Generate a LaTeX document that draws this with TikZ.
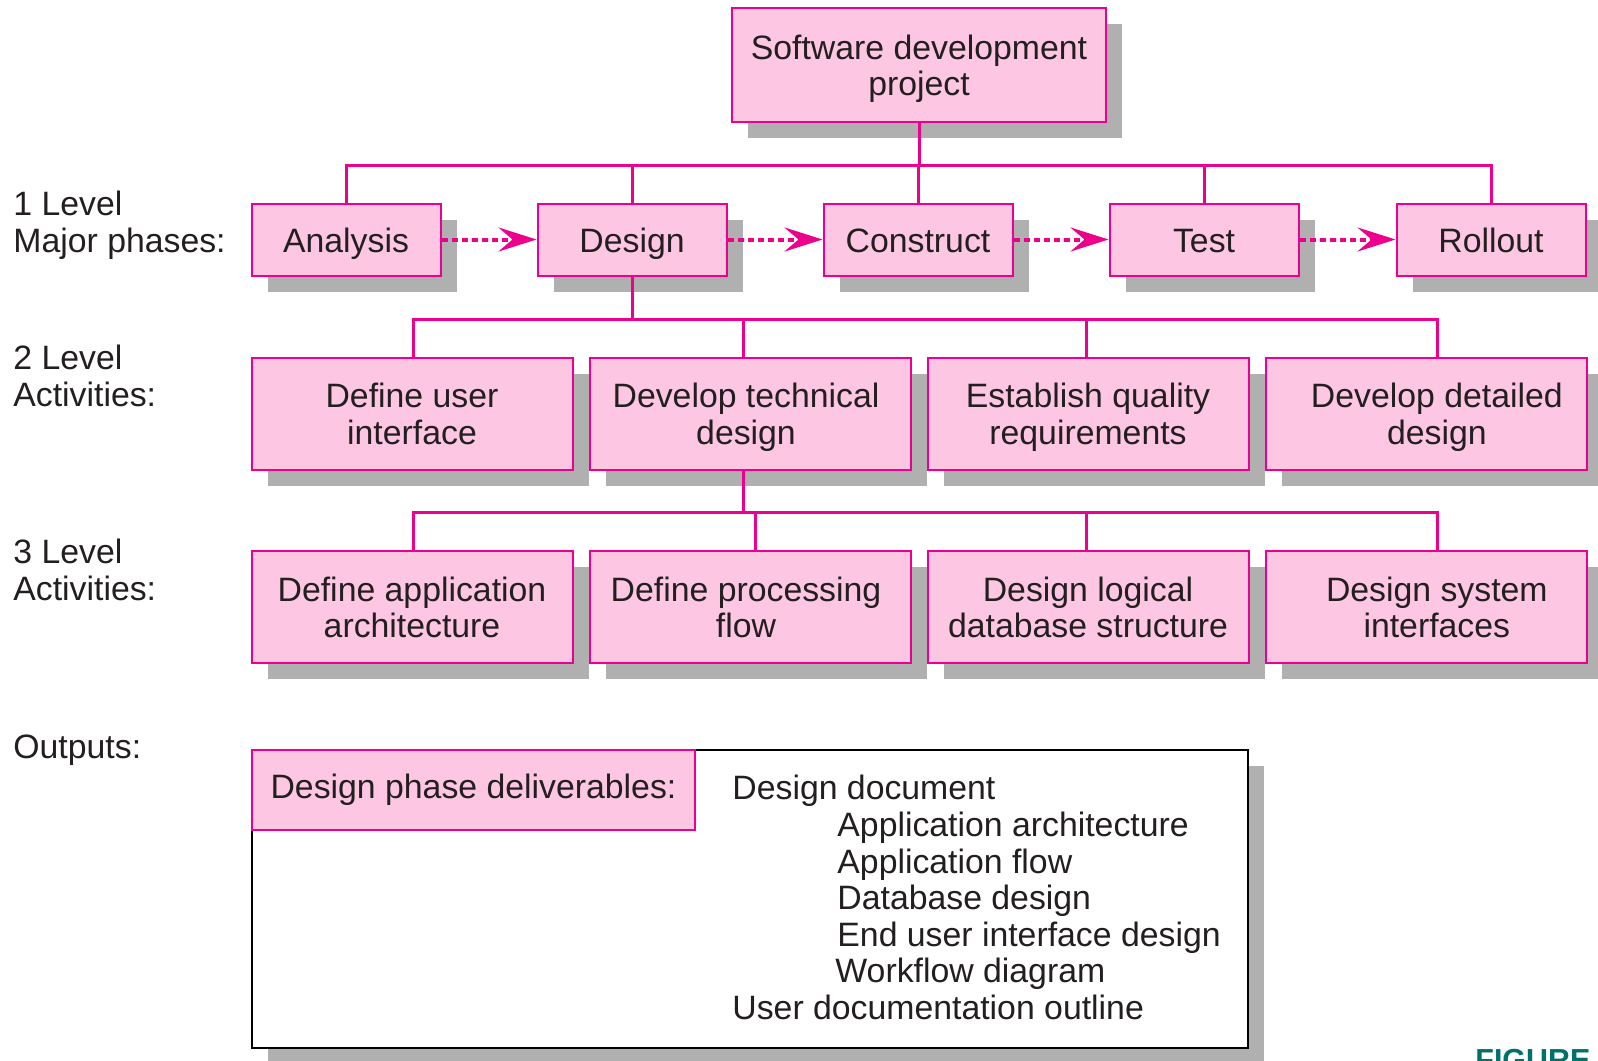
\documentclass[tikz,border=0pt]{standalone}
\usepackage{fontspec}
\setmainfont{Liberation Sans}
\usepackage{tikz,xcolor}
\usetikzlibrary{calc,positioning,shadows,arrows.meta}

\definecolor{wbsline}{HTML}{EC008C}
\definecolor{wbsfill}{HTML}{FDC6E2}
\definecolor{wbsshade}{HTML}{B0B0B0}
\definecolor{wbstext}{HTML}{231F20}
\definecolor{figteal}{HTML}{00706B}

\begin{document}
\begin{tikzpicture}[x=0.5pt, y=-0.5pt,
    every node/.style={font=\fontsize{16.9}{18.3}\selectfont, text=wbstext},
    wbsplain/.style={draw=wbsline, line width=1pt, fill=wbsfill, align=center, inner sep=0pt},
    wbsbox/.style={wbsplain, drop shadow={shadow xshift=8pt, shadow yshift=-8pt, fill=wbsshade, opacity=1}},
    phasebox/.style={wbsbox, minimum width=94.5pt, minimum height=36pt, text height=16pt, text depth=3pt},
    taskbox/.style={wbsbox, minimum width=160.5pt, minimum height=56pt, text height=30.6pt, text depth=0pt},
    wbslink/.style={draw=wbsline, line width=1.5pt},
    follows/.style={draw=wbsline, line width=2pt, dash pattern=on 3pt off 2pt, -{Stealth[length=19pt, width=12pt, inset=7pt]}},
    lvl/.style={anchor=north west, inner sep=0pt, align=left}]

    \useasboundingbox (0,0) rectangle (1598,1060);
    \clip (0,0) rectangle (1598,1060);

    \node[lvl] (lvlone) at (13,191) {1 Level\\Major phases:};
    \node[lvl] (lvltwo) at (13,345) {2 Level\\Activities:};
    \node[lvl] (lvlthree) at (13,539) {3 Level\\Activities:};
    \node[lvl] (outlbl) at (13,734) {Outputs:};

    \node[taskbox, minimum width=187pt, minimum height=57pt] (project) at (919,65) {Software development\\project};

    \node[phasebox] (analysis) at (346,239.5) {Analysis};
    \node[phasebox] (design) at (632,239.5) {Design};
    \node[phasebox] (construct) at (918,239.5) {Construct};
    \node[phasebox] (test) at (1204,239.5) {Test};
    \node[phasebox] (rollout) at (1491,239.5) {Rollout};

    \node[taskbox] (uiact) at (412,413.5) {Define user\\interface};
    \node[taskbox] (techact) at (750,413.5) {Develop technical\hspace*{4pt}\\design\hspace*{4pt}};
    \node[taskbox] (qualact) at (1088,413.5) {Establish quality\\requirements};
    \node[taskbox] (detailact) at (1426,413.5) {\hspace*{10.8pt}Develop detailed\\\hspace*{10.8pt}design};

    \node[taskbox] (archtask) at (412,607) {Define application\\architecture};
    \node[taskbox] (flowtask) at (750,607) {Define processing\hspace*{4pt}\\flow\hspace*{4pt}};
    \node[taskbox] (dbtask) at (1088,607) {Design logical\\database structure};
    \node[taskbox] (ifacetask) at (1426,607) {\hspace*{10.8pt}Design system\\\hspace*{10.8pt}interfaces};

    \node[draw=black, line width=1pt, fill=white, inner sep=0pt, minimum width=498pt, minimum height=149pt,
        drop shadow={shadow xshift=8pt, shadow yshift=-8pt, fill=wbsshade, opacity=1}] (outputs) at (750,899) {};
    \node[wbsplain, anchor=north west, minimum width=221.5pt, minimum height=40pt] (deliv) at (outputs.north west) {Design phase deliverables:};
    \node[lvl] (doclist) at (732,775) {Design document\\
        \hspace*{52.5pt}Application architecture\\
        \hspace*{52.5pt}Application flow\\
        \hspace*{52.5pt}Database design\\
        \hspace*{52.5pt}End user interface design\\
        \hspace*{51.5pt}Workflow diagram\\
        User documentation outline};

    \coordinate (busone) at (0,165);
    \coordinate (bustwo) at (0,319);
    \coordinate (busthree) at (0,512);

    \draw[wbslink] (project.south) -- (project.south |- busone);
    \draw[wbslink] (analysis.north) -- (analysis.north |- busone) -- (rollout.north |- busone) -- (rollout.north);
    \draw[wbslink] (design.north) -- (design.north |- busone);
    \draw[wbslink] (construct.north) -- (construct.north |- busone);
    \draw[wbslink] (test.north) -- (test.north |- busone);

    \draw[wbslink] (design.south) -- (design.south |- bustwo);
    \draw[wbslink] ([xshift=0.5pt]uiact.north) -- ([xshift=0.5pt]uiact.north |- bustwo) -- ([xshift=5.5pt]detailact.north |- bustwo) -- ([xshift=5.5pt]detailact.north);
    \draw[wbslink] ([xshift=-3.5pt]techact.north) -- ([xshift=-3.5pt]techact.north |- bustwo);
    \draw[wbslink] ([xshift=-1pt]qualact.north) -- ([xshift=-1pt]qualact.north |- bustwo);

    \draw[wbslink] ([xshift=-3.5pt]techact.south) -- ([xshift=-3.5pt]techact.south |- busthree);
    \draw[wbslink] ([xshift=0.5pt]archtask.north) -- ([xshift=0.5pt]archtask.north |- busthree) -- ([xshift=5.5pt]ifacetask.north |- busthree) -- ([xshift=5.5pt]ifacetask.north);
    \draw[wbslink] ([xshift=2.5pt]flowtask.north) -- ([xshift=2.5pt]flowtask.north |- busthree);
    \draw[wbslink] ([xshift=-1pt]dbtask.north) -- ([xshift=-1pt]dbtask.north |- busthree);

    \draw[follows] (analysis) -- (design);
    \draw[follows] (design) -- (construct);
    \draw[follows] (construct) -- (test);
    \draw[follows] (test) -- (rollout);

    \node[anchor=north west, inner sep=0pt, text=figteal, font=\fontsize{15.2}{18}\selectfont\bfseries] (figlbl) at (1475,1049) {FIGURE};
\end{tikzpicture}
\end{document}
